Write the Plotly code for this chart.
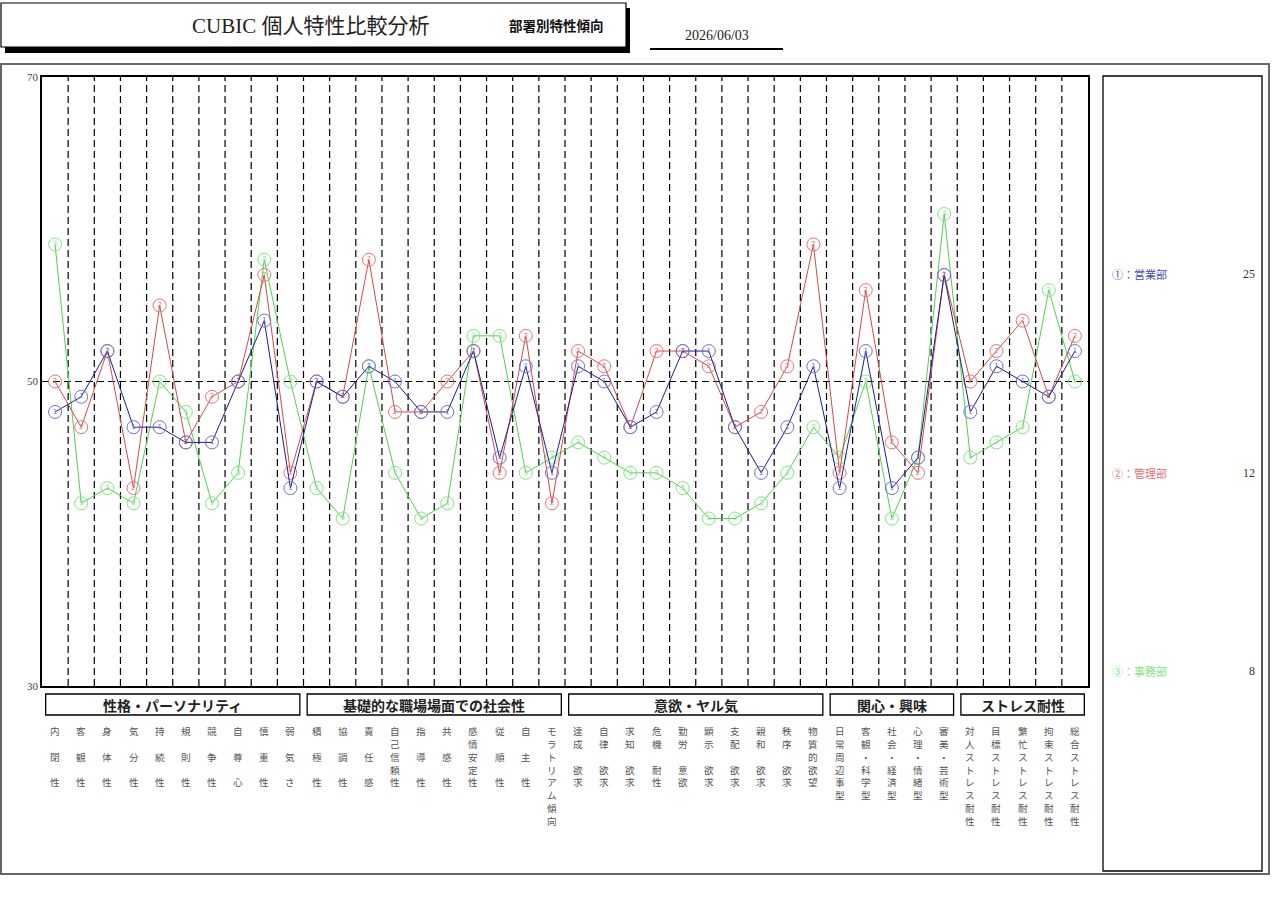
import plotly.graph_objects as go

# ---------------- data ----------------
categories = [
    "内閉性", "客観性", "身体性", "気分性", "持続性", "規則性", "競争性", "自尊心", "慎重性", "弱気さ",
    "積極性", "協調性", "責任感", "自己信頼性", "指導性", "共感性", "感情安定性", "従順性", "自主性", "モラトリアム傾向",
    "達成欲求", "自律欲求", "求知欲求", "危機耐性", "勤労意欲", "顕示欲求", "支配欲求", "親和欲求", "秩序欲求", "物質的欲望",
    "日常周辺事型", "客観・科学型", "社会・経済型", "心理・情緒型", "審美・芸術型",
    "対人ストレス耐性", "目標ストレス耐性", "繁忙ストレス耐性", "拘束ストレス耐性", "総合ストレス耐性",
]
group_names = ["性格・パーソナリティ", "基礎的な職場場面での社会性", "意欲・ヤル気", "関心・興味", "ストレス耐性"]
group_sizes = [10, 10, 10, 5, 5]

dept_names = ["営業部", "管理部", "事務部"]
dept_marks = ["①", "②", "③"]
dept_counts = [25, 12, 8]

eigyo = [48, 49, 52, 47, 47, 46, 46, 50, 54, 43,
         50, 49, 51, 50, 48, 48, 52, 45, 51, 44,
         51, 50, 47, 48, 52, 52, 47, 44, 47, 51,
         43, 52, 43, 45, 57,
         48, 51, 50, 49, 52]
kanri = [50, 47, 52, 43, 55, 46, 49, 50, 57, 44,
         50, 49, 58, 48, 48, 50, 52, 44, 53, 42,
         52, 51, 47, 52, 52, 51, 47, 48, 51, 59,
         44, 56, 46, 44, 57,
         50, 52, 54, 49, 53]
jimu = [59, 42, 43, 42, 50, 48, 42, 44, 58, 50,
        43, 41, 51, 44, 41, 42, 53, 53, 44, 45,
        46, 45, 44, 44, 43, 41, 41, 42, 44, 47,
        45, 50, 41, 45, 61,
        45, 46, 47, 56, 50]

y_ticks = [30, 50, 70]
title_text = "CUBIC 個人特性比較分析"
subtitle_text = "部署別特性傾向"
date_text = "2026/06/03"

# ---------------- layout helpers ----------------
W_FIG, H_FIG = 1280, 905
L, R, T, B = 42, 1088, 77, 686


def px(x):
    return (x - L) / (R - L)


def py(y):
    return (B - y) / (B - T)


line_cols = ["#1e1e8c", "#d24a4a", "#4fd24f"]
mark_cols = ["#6f6fd0", "#e37474", "#7fe67f"]
series = [eigyo, kanri, jimu]

JP = "Noto Sans CJK JP"
SERIF = "Liberation Serif, Noto Sans CJK JP"

fig = go.Figure()
xs = list(range(len(categories)))
for k in [2, 1, 0]:
    fig.add_trace(go.Scatter(
        x=xs, y=series[k], mode="lines+markers+text",
        name=dept_names[k],
        line=dict(color=line_cols[k], width=1),
        marker=dict(symbol="circle-open", size=13, color=mark_cols[k], line=dict(width=1, color=mark_cols[k])),
        text=[str(k + 1)] * len(xs), textposition="middle center",
        textfont=dict(size=7, color=mark_cols[k], family="DejaVu Sans"),
        showlegend=False, cliponaxis=False,
    ))

shapes = []
# outer frame
shapes.append(dict(type="rect", xref="paper", yref="paper", x0=px(1), x1=px(1269), y0=py(64), y1=py(874),
                   line=dict(color="#666666", width=2), layer="below"))
# title shadow and box
shapes.append(dict(type="rect", xref="paper", yref="paper", x0=px(5), x1=px(630), y0=py(8), y1=py(53),
                   line=dict(width=0), fillcolor="black", layer="below"))
shapes.append(dict(type="rect", xref="paper", yref="paper", x0=px(1), x1=px(626), y0=py(3), y1=py(47),
                   line=dict(color="black", width=1.2), fillcolor="white", layer="below"))
# date underline
shapes.append(dict(type="line", xref="paper", yref="paper", x0=px(650), x1=px(783), y0=py(49), y1=py(49),
                   line=dict(color="black", width=2)))
# legend box
shapes.append(dict(type="rect", xref="paper", yref="paper", x0=px(1103), x1=px(1262), y0=py(76), y1=py(871),
                   line=dict(color="black", width=1.3)))
# vertical dashed separators
for i in range(len(categories) - 1):
    shapes.append(dict(type="line", xref="x", yref="y", x0=i + 0.5, x1=i + 0.5, y0=y_ticks[0], y1=y_ticks[-1],
                       line=dict(color="black", width=1.2, dash="7px,4px"), layer="below"))
# horizontal reference at 50
shapes.append(dict(type="line", xref="x", yref="y", x0=-0.5, x1=len(categories) - 0.5, y0=y_ticks[1], y1=y_ticks[1],
                   line=dict(color="black", width=1.2, dash="7px,4px"), layer="below"))

annotations = []
# group boxes
start = 0
for name, n in zip(group_names, group_sizes):
    x0 = start - 0.5 + 0.14
    x1 = start + n - 0.5 - 0.14
    shapes.append(dict(type="rect", xref="x", yref="paper", x0=x0, x1=x1, y0=py(715), y1=py(694),
                       line=dict(color="black", width=1.3)))
    annotations.append(dict(x=(x0 + x1) / 2, y=py(704.5), xref="x", yref="paper", text="<b>" + name + "</b>",
                            showarrow=False, font=dict(family=JP, size=14, color="#222222"),
                            xanchor="center", yanchor="middle"))
    start += n

# vertical category labels
ROW0, ROWH = 731, 12.85
for i, cat in enumerate(categories):
    n = len(cat)
    if n == 3:
        rows = [0, 2, 4]
    elif n == 4:
        rows = [0, 1, 3, 4]
    else:
        rows = list(range(n))
    for ch, r in zip(cat, rows):
        annotations.append(dict(x=i, y=py(ROW0 + ROWH * r), xref="x", yref="paper", text=ch, showarrow=False,
                                font=dict(family=JP, size=9.6, color="#555555"),
                                xanchor="center", yanchor="middle"))

# title texts
annotations.append(dict(x=px(310), y=py(26), xref="paper", yref="paper", text=title_text, showarrow=False,
                        font=dict(family=SERIF, size=21, color="#222222"), xanchor="center", yanchor="middle"))
annotations.append(dict(x=px(556), y=py(25), xref="paper", yref="paper", text="<b>" + subtitle_text + "</b>",
                        showarrow=False, font=dict(family=JP, size=13.5, color="#111111"),
                        xanchor="center", yanchor="middle"))
annotations.append(dict(x=px(717), y=py(35), xref="paper", yref="paper", text=date_text, showarrow=False,
                        font=dict(family=SERIF, size=14, color="#222222"), xanchor="center", yanchor="middle"))

# legend entries
leg_y = [274, 473, 671]
for k in range(3):
    annotations.append(dict(x=px(1110), y=py(leg_y[k]), xref="paper", yref="paper",
                            text=dept_marks[k] + "：" + dept_names[k], showarrow=False,
                            font=dict(family=JP, size=11, color=mark_cols[k] if k else "#4a4ab8"),
                            xanchor="left", yanchor="middle"))
    annotations.append(dict(x=px(1257), y=py(leg_y[k]), xref="paper", yref="paper",
                            text=str(dept_counts[k]), showarrow=False,
                            font=dict(family=SERIF, size=12, color="#333333"),
                            xanchor="right", yanchor="middle"))

fig.update_layout(
    width=W_FIG, height=H_FIG, autosize=False,
    margin=dict(l=L, r=W_FIG - R, t=T, b=H_FIG - B, pad=0),
    paper_bgcolor="white", plot_bgcolor="white",
    shapes=shapes, annotations=annotations,
    xaxis=dict(range=[-0.5, len(categories) - 0.5], showgrid=False, zeroline=False, showticklabels=False,
               ticks="", showline=True, mirror=True, linecolor="black", linewidth=1.5, fixedrange=True),
    yaxis=dict(range=[y_ticks[0], y_ticks[-1]], tickvals=y_ticks, ticktext=[str(v) for v in y_ticks],
               showgrid=False, zeroline=False, ticks="", showline=True, mirror=True, linecolor="black",
               linewidth=1.5, tickfont=dict(family=SERIF, size=11, color="#444444"), fixedrange=True),
)

fig.write_html("out.html", config={"displayModeBar": False},
               post_script="document.body.style.margin='0';document.body.style.overflow='hidden';")
